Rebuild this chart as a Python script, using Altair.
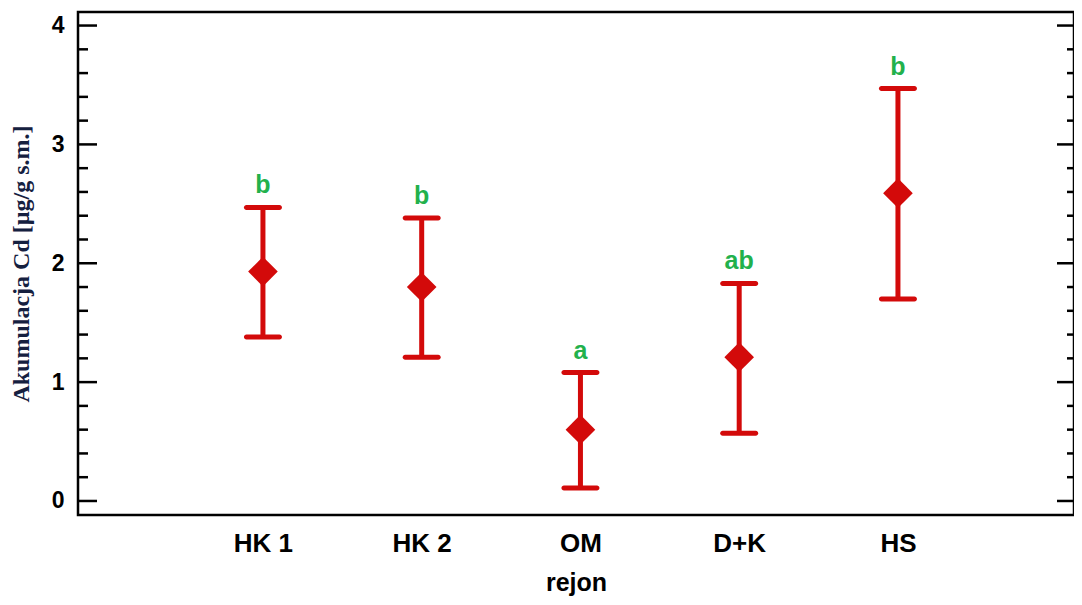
import altair as alt
import pandas as pd

regions = ["HK 1", "HK 2", "OM", "D+K", "HS"]
means = [1.93, 1.80, 0.60, 1.21, 2.59]
lower = [1.38, 1.21, 0.11, 0.57, 1.70]
upper = [2.47, 2.38, 1.08, 1.83, 3.47]
letters = ["b", "b", "a", "ab", "b"]

major_ticks = [0, 1, 2, 3, 4]
minor_ticks = [0.2, 0.4, 0.6, 0.8, 1.2, 1.4, 1.6, 1.8, 2.2, 2.4, 2.6, 2.8,
               3.2, 3.4, 3.6, 3.8]

df = pd.DataFrame({"idx": list(range(len(regions))), "rejon": regions, "mean": means,
                   "lo": lower, "hi": upper, "lab": letters})
majors = pd.DataFrame({"v": major_ticks})
minors = pd.DataFrame({"v": minor_ticks})

W, H = 996, 503
RED = "#d30a0a"
GREEN = "#22b14c"

xscale = alt.Scale(domain=[-1.165, 5.109], nice=False, zero=False)
yscale = alt.Scale(domain=[-0.118, 4.114], nice=False, zero=False)

label_expr = "[" + ",".join("'" + r + "'" for r in regions) + "][datum.value]"

x_enc = alt.X("idx:Q", scale=xscale,
              axis=alt.Axis(title="rejon", values=list(range(len(regions))), labelExpr=label_expr,
                            labelAngle=0, domain=False, ticks=False, grid=False,
                            labelFont="Liberation Sans", labelFontSize=26, labelFontWeight="bold",
                            labelColor="black", labelPadding=15,
                            titleFont="Liberation Sans", titleFontSize=25, titleFontWeight="bold",
                            titleColor="black", titlePadding=14))

y_axis = alt.Axis(title="Akumulacja Cd [µg/g s.m.]", values=major_ticks, format="d",
                  domain=False, ticks=False, grid=False,
                  labelFont="Liberation Sans", labelFontSize=23, labelFontWeight="bold",
                  labelColor="black", labelPadding=14,
                  titleFont="Liberation Serif", titleFontSize=24, titleFontWeight="bold",
                  titleColor="#15203f", titlePadding=18)

base = alt.Chart(df)
xq = alt.X("idx:Q", scale=xscale)

err = base.mark_rule(color=RED, strokeWidth=5).encode(
    x=x_enc,
    y=alt.Y("lo:Q", scale=yscale, axis=y_axis),
    y2="hi:Q",
)
cap_hi = base.mark_tick(color=RED, size=38, thickness=5, cornerRadius=2.5, opacity=1,
                        orient="horizontal").encode(x=xq, y=alt.Y("hi:Q", scale=yscale))
cap_lo = base.mark_tick(color=RED, size=38, thickness=5, cornerRadius=2.5, opacity=1,
                        orient="horizontal").encode(x=xq, y=alt.Y("lo:Q", scale=yscale))
pts = base.mark_point(shape="diamond", filled=True, color=RED, size=880, opacity=1).encode(
    x=xq, y=alt.Y("mean:Q", scale=yscale))
txt = base.mark_text(color=GREEN, font="Liberation Sans", fontSize=25, fontWeight="bold",
                     dy=-22, baseline="middle").encode(
    x=xq, y=alt.Y("hi:Q", scale=yscale), text="lab:N")

tick_style = dict(color="black", strokeWidth=2.5)
lmaj = alt.Chart(majors).mark_rule(**tick_style).encode(
    y=alt.Y("v:Q", scale=yscale), x=alt.value(0), x2=alt.value(19))
lmin = alt.Chart(minors).mark_rule(**tick_style).encode(
    y=alt.Y("v:Q", scale=yscale), x=alt.value(0), x2=alt.value(10))
rmaj = alt.Chart(majors).mark_rule(**tick_style).encode(
    y=alt.Y("v:Q", scale=yscale), x=alt.value(W - 17), x2=alt.value(W))
rmin = alt.Chart(minors).mark_rule(**tick_style).encode(
    y=alt.Y("v:Q", scale=yscale), x=alt.value(W - 7), x2=alt.value(W))

chart = alt.layer(err, lmaj, lmin, rmaj, rmin, cap_hi, cap_lo, pts, txt).properties(
    width=W, height=H,
    background="white",
    autosize=alt.AutoSizeParams(type="none"),
    padding={"left": 70, "top": 4, "right": 0, "bottom": 82},
).configure_view(stroke="black", strokeWidth=2.5)

chart.save("out.html", embed_options={"renderer": "svg", "actions": False})
